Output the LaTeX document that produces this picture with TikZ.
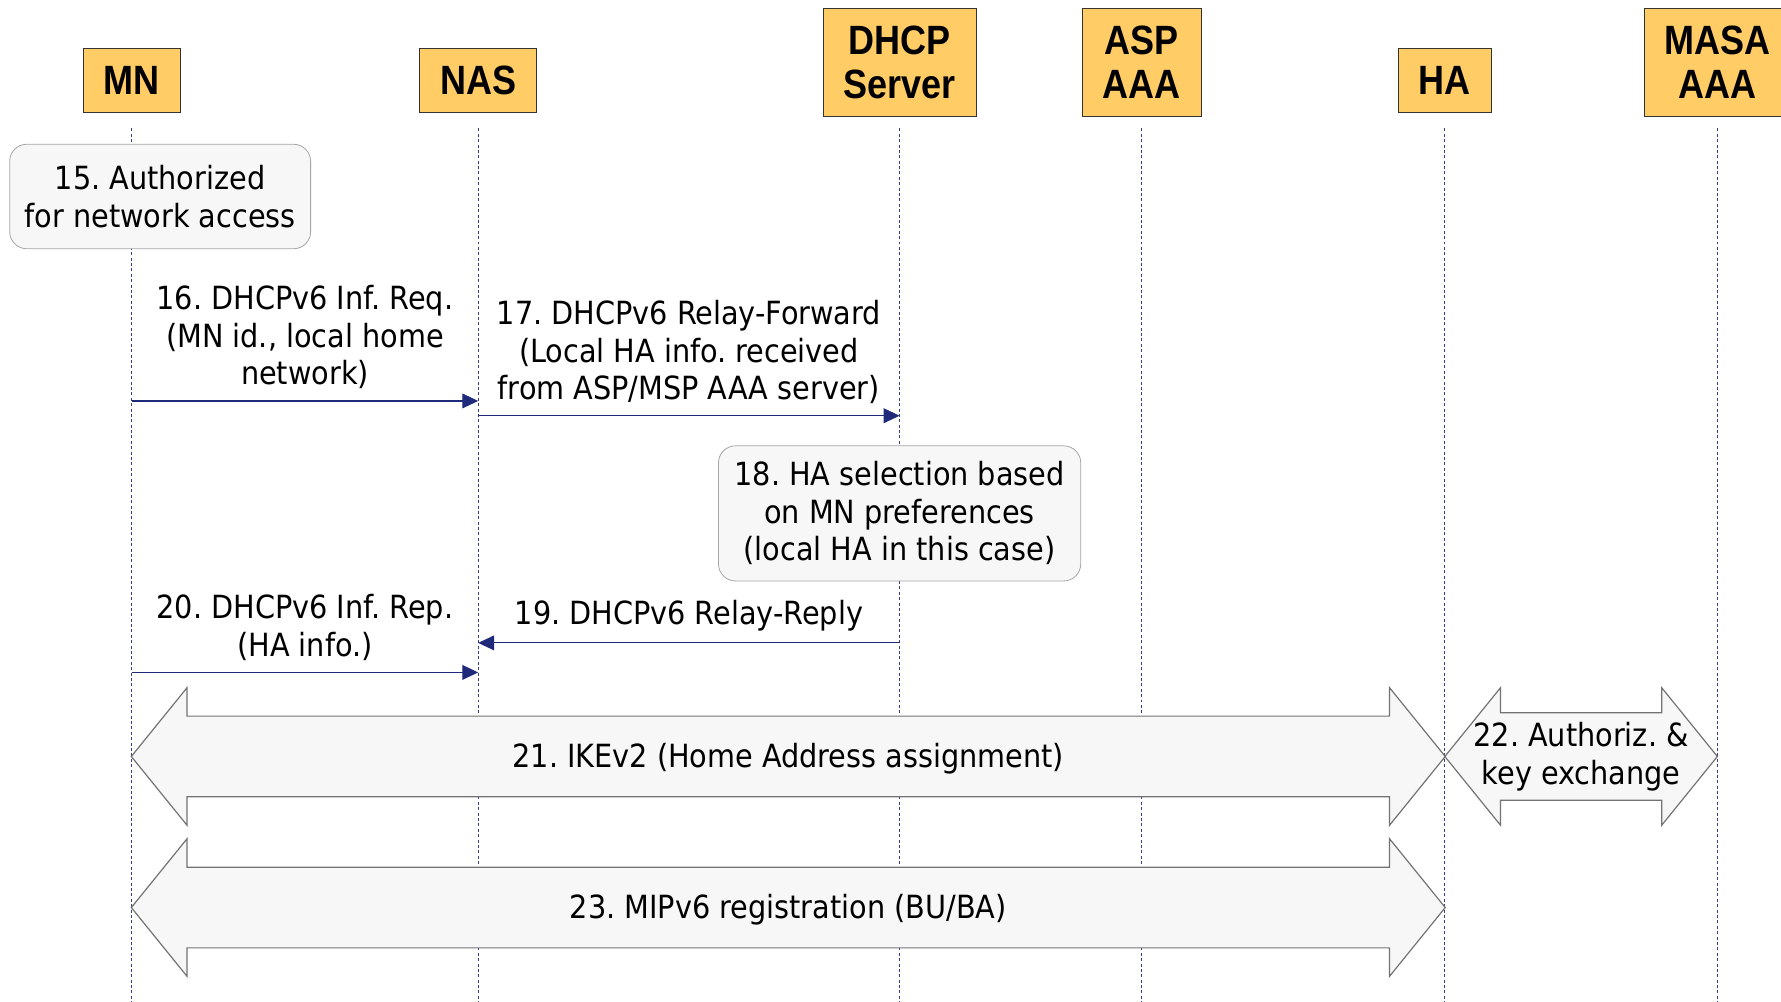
\documentclass[tikz,border=0pt]{standalone}
\usepackage{fontspec}
\setmainfont{DejaVu Sans Condensed}
\newfontfamily\headfont[FakeStretch=0.88]{Liberation Sans}
\usetikzlibrary{positioning, arrows.meta, shapes.arrows, calc}
\definecolor{actorfill}{HTML}{FFCC66}
\definecolor{msgblue}{HTML}{1F2A7A}
\definecolor{notefill}{HTML}{F7F7F7}
\frenchspacing

\begin{document}
\begin{tikzpicture}[
    x=0.02cm, y=-0.02cm,
    actor/.style={rectangle, draw=black!80, fill=actorfill, align=center, inner xsep=0.36cm, minimum height=1.12cm, font=\headfont\bfseries\fontsize{20.5}{22.2}\selectfont},
    tall/.style={minimum height=1.9cm},
    note/.style={rectangle, draw=black!35, fill=notefill, rounded corners=0.3cm, align=center, inner sep=0pt},
    lifeline/.style={draw=msgblue!90, line width=0.5pt, dash pattern=on 1.5pt off 1.2pt},
    msg/.style={-{Triangle[length=0.28cm, width=0.26cm]}, draw=msgblue, line width=0.6pt},
    msglabel/.style={midway, above=0.08cm, align=center},
    bigarrow/.style={double arrow, draw=black!55, fill=notefill, line width=0.6pt, inner xsep=0pt, inner ysep=0.7cm, double arrow head extend=0.5cm, double arrow tip angle=102},
    every node/.style={font=\fontsize{16}{18.8}\selectfont}
]
\useasboundingbox (0,0) rectangle (1568,882);

% Nodes
\node[actor] (mn) at (116,71) {MN};
\node[actor] (nas) at (421,71) {NAS};
\node[actor, tall] (dhcp) at (792,55) {DHCP\\Server};
\node[actor, tall] (asp) at (1005,55) {ASP\\AAA};
\node[actor] (ha) at (1272,71) {HA};
\node[actor, tall] (masa) at (1512,55) {MASA\\AAA};

% Lifelines
\foreach \n in {mn, nas, dhcp, asp, ha, masa}
    \draw[lifeline] (\n |- 0,113) -- (\n |- 0,882);

% Local steps
\node[note, minimum width=5.3cm, minimum height=1.84cm] (auth) at (141,173) {15. Authorized\\for network access};
\node[note, minimum width=6.38cm, minimum height=2.38cm] (hasel) at (dhcp |- 0,452) {18. HA selection based\\on MN preferences\\(local HA in this case)};

% Edges
\draw[msg] (mn |- 0,353) -- (nas |- 0,353) node[msglabel] (l16) {16. DHCPv6 Inf. Req.\\(MN id., local home\\network)};
\draw[msg] (nas |- 0,366) -- (dhcp |- 0,366) node[msglabel] (l17) {17. DHCPv6 Relay-Forward\\(Local HA info. received\\from ASP/MSP AAA server)};
\draw[msg] (dhcp |- 0,566) -- (nas |- 0,566) node[msglabel] (l19) {19. DHCPv6 Relay-Reply};
\draw[msg] (mn |- 0,592) -- (nas |- 0,592) node[msglabel] (l20) {20. DHCPv6 Inf. Rep.\\(HA info.)};

% Exchanges
\node[bigarrow, minimum height=23.14cm] (ikev) at ($(mn |- 0,666)!0.5!(ha |- 0,666)$) {};
\node (l21) at ([yshift=-0.04cm]ikev) {21. IKEv2 (Home Address assignment)};
\node[bigarrow, minimum height=4.8cm, inner ysep=0.76cm, double arrow head extend=0.44cm] (authkey) at ($(ha |- 0,666)!0.5!(masa |- 0,666)$) {};
\node[align=center] (l22) at (authkey) {22. Authoriz. \&\\key exchange};
\node[bigarrow, minimum height=23.14cm] (mipreg) at ($(mn |- 0,799)!0.5!(ha |- 0,799)$) {};
\node (l23) at ([yshift=-0.04cm]mipreg) {23. MIPv6 registration (BU/BA)};

\end{tikzpicture}
\end{document}
